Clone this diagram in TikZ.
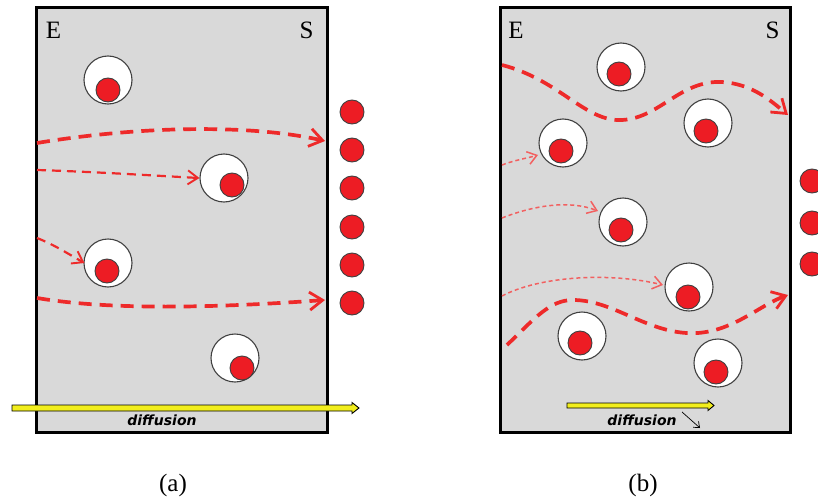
\documentclass[tikz,border=0pt]{standalone}
\usepackage{fontspec}
\setmainfont{Liberation Serif}
\newfontfamily\difffont{DejaVu Sans}
\usetikzlibrary{arrows.meta}
\definecolor{panelgray}{HTML}{D9D9D9}
\definecolor{dotred}{HTML}{ED1C24}
\definecolor{pathred}{HTML}{EE2A2A}
\definecolor{lightred}{HTML}{F26060}
\definecolor{diffyellow}{HTML}{F2EE1C}
\begin{document}
\begin{tikzpicture}[x=1pt,y=-1pt,
  panel/.style={draw=black, line width=3pt, fill=panelgray, rectangle, inner sep=0pt},
  shell/.style={circle, draw=black!75, line width=1.1pt, fill=white, minimum size=48pt, inner sep=0pt},
  core/.style={circle, draw=black!75, line width=0.9pt, fill=dotred, minimum size=24pt, inner sep=0pt},
  lab/.style={font=\fontsize{25}{28}\selectfont, inner sep=0pt},
  difflab/.style={font=\difffont\bfseries\itshape\fontsize{14}{16}\selectfont, inner sep=0pt},
  bigpath/.style={draw=pathred, line width=3.7pt, dash pattern=on 13pt off 8pt,
     -{Straight Barb[length=13pt,width=18pt,line width=2.8pt]}},
  midpath/.style={draw=pathred, line width=2.2pt, dash pattern=on 9pt off 6pt,
     -{Straight Barb[length=10pt,width=14pt,line width=1.9pt]}},
  thinpath/.style={draw=lightred, line width=1.5pt, dash pattern=on 4pt off 3pt,
     -{Straight Barb[length=9pt,width=13pt,line width=1.5pt]}},
  yarrow/.style={fill=diffyellow, draw=black, line width=0.9pt, line join=miter}
]
\useasboundingbox (0,0) rectangle (818,500);

% ---------- panel (a) ----------
\node[panel, minimum width=291pt, minimum height=424pt] (pa) at (181.5,220) {};
\node[lab] (Ea) at (53.5,30) {E};
\node[lab] (Sa) at (306.5,30.5) {S};

\node[shell] (a1) at (108,80) {};   \node[core] (a1c) at (108,90) {};
\node[shell] (a2) at (224,178) {};  \node[core] (a2c) at (232,185) {};
\node[shell] (a3) at (108,263) {};  \node[core] (a3c) at (107,271) {};
\node[shell] (a4) at (235,358) {};  \node[core] (a4c) at (242,368) {};

\foreach \i/\y in {1/112,2/150,3/188,4/227,5/265,6/303}
  \node[core] (ao\i) at (352,\y) {};

\coordinate (ap1s) at (37,143);  \coordinate (ap1e) at (325,141);
\coordinate (ap2s) at (37,170);
\coordinate (ap3s) at (37,238);
\coordinate (ap4s) at (37,298);  \coordinate (ap4e) at (325,300);
\path[bigpath] (ap1s) .. controls (140,126) and (250,124) .. (ap1e);
\path[midpath] (ap2s) .. controls (100,172) and (160,176) .. (a2.west);
\path[midpath] (ap3s) .. controls (55,245) and (70,255) .. ([xshift=1pt]a3.west);
\path[bigpath] (ap4s) .. controls (120,312) and (240,306) .. (ap4e);

% diffusion arrow (a)
\filldraw[yarrow] (12,405) -- (352,405) -- (352,402.5) -- (359,408) -- (352,413.5) -- (352,411) -- (12,411) -- cycle;
\node[difflab] (da) at (162,420) {diffusion};

% ---------- panel (b) ----------
\node[panel, minimum width=290pt, minimum height=424pt] (pb) at (645,220) {};
\node[lab] (Eb) at (516,30) {E};
\node[lab] (Sb) at (772.5,30.5) {S};

\node[shell] (b1) at (621,67) {};   \node[core] (b1c) at (619,74) {};
\node[shell] (b2) at (708,123) {};  \node[core] (b2c) at (706,131) {};
\node[shell] (b3) at (563,143) {};  \node[core] (b3c) at (561,151) {};
\node[shell] (b4) at (623,222) {};  \node[core] (b4c) at (621,230) {};
\node[shell] (b5) at (689,287) {};  \node[core] (b5c) at (688,297) {};
\node[shell] (b6) at (582,336) {};  \node[core] (b6c) at (580,343) {};
\node[shell] (b7) at (718,363) {};  \node[core] (b7c) at (716,372) {};

\foreach \i/\y in {1/181,2/223,3/264}
  \node[core] (bo\i) at (812,\y) {};

\coordinate (bp1s) at (502,65);  \coordinate (bp1e) at (788,115);
\coordinate (bp2s) at (502,165); \coordinate (bp2e) at (538,155);
\coordinate (bp3s) at (502,218); \coordinate (bp3e) at (598,211);
\coordinate (bp4s) at (502,296); \coordinate (bp4e) at (663,285);
\coordinate (bp5s) at (507,345); \coordinate (bp5e) at (788,295);

\path[bigpath] (bp1s) .. controls (560,80) and (585,122) .. (622,120)
   .. controls (660,118) and (680,80) .. (722,82)
   .. controls (752,84) and (770,100) .. (bp1e);
\path[thinpath] (bp2s) .. controls (515,160) and (528,158) .. (bp2e);
\path[thinpath] (bp3s) .. controls (535,205) and (570,200) .. (bp3e);
\path[thinpath] (bp4s) .. controls (540,276) and (610,272) .. (bp4e);
\path[bigpath] (bp5s) .. controls (535,318) and (550,300) .. (573,300)
   .. controls (615,300) and (650,336) .. (698,333)
   .. controls (735,330) and (760,305) .. (bp5e);

% diffusion arrow (b)
\filldraw[yarrow] (567,403) -- (708,403) -- (708,400.5) -- (714,405.5) -- (708,410.5) -- (708,408) -- (567,408) -- cycle;
\node[difflab] (db) at (642,420) {diffusion};
\coordinate (smallA) at (682,412);
\coordinate (smallB) at (700,428);
\draw[black, line width=0.7pt, -{Straight Barb[length=5pt,width=8pt]}] (smallA) -- (smallB);

% captions
\node[lab] (capa) at (173,485) {(a)};
\node[lab] (capb) at (643,485) {(b)};
\end{tikzpicture}
\end{document}
